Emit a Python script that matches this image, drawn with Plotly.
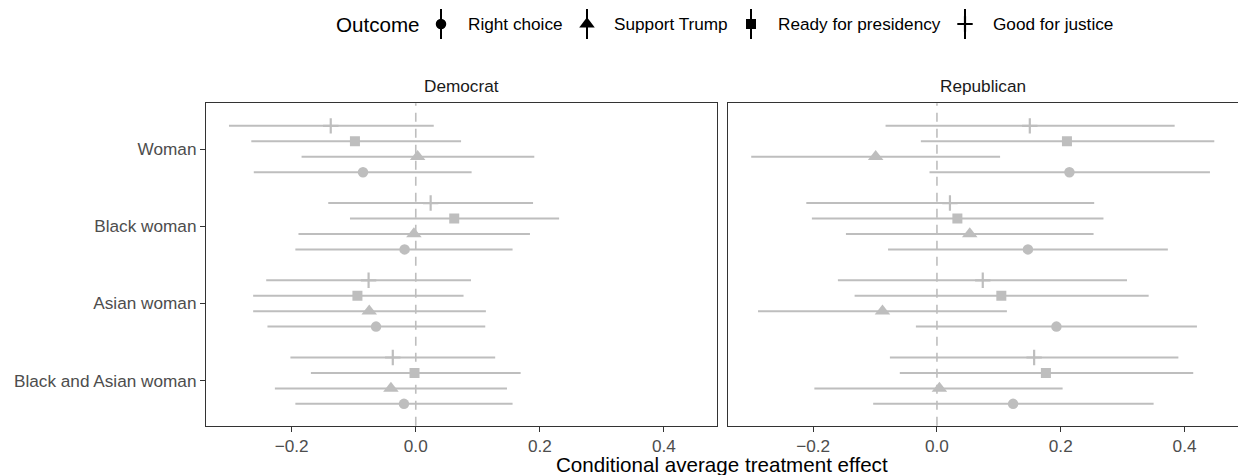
import plotly.graph_objects as go

# ---------------- data ----------------
categories = ["Woman", "Black woman", "Asian woman", "Black and Asian woman"]
outcomes = ["Right choice", "Support Trump", "Ready for presidency", "Good for justice"]
parties = ["Democrat", "Republican"]

# rows follow `outcomes`, columns follow `categories`
dem_est = [
    [-0.085, -0.018, -0.064, -0.019],
    [0.003, -0.003, -0.075, -0.040],
    [-0.098, 0.062, -0.094, -0.002],
    [-0.137, 0.024, -0.076, -0.037],
]
dem_lo = [
    [-0.261, -0.194, -0.239, -0.194],
    [-0.184, -0.189, -0.262, -0.227],
    [-0.265, -0.106, -0.262, -0.169],
    [-0.301, -0.141, -0.241, -0.202],
]
dem_hi = [
    [0.090, 0.156, 0.112, 0.156],
    [0.191, 0.184, 0.113, 0.147],
    [0.073, 0.231, 0.077, 0.169],
    [0.029, 0.189, 0.089, 0.128],
]
rep_est = [
    [0.214, 0.147, 0.193, 0.123],
    [-0.099, 0.053, -0.088, 0.004],
    [0.210, 0.033, 0.104, 0.176],
    [0.150, 0.021, 0.074, 0.157],
]
rep_lo = [
    [-0.012, -0.079, -0.034, -0.103],
    [-0.300, -0.147, -0.289, -0.198],
    [-0.026, -0.202, -0.133, -0.060],
    [-0.083, -0.211, -0.160, -0.076],
]
rep_hi = [
    [0.441, 0.373, 0.420, 0.350],
    [0.102, 0.253, 0.113, 0.203],
    [0.448, 0.269, 0.342, 0.414],
    [0.384, 0.254, 0.307, 0.390],
]
x_ticks = [-0.2, 0.0, 0.2, 0.4]

# ---------------- style ----------------
GREY = "#BEBEBE"
FONT = "Liberation Sans, Arial, sans-serif"
symbols = ["circle", "triangle-up", "square", "cross-thin-open"]
sizes = [10.5, 13.5, 10, 11]
line_w = [0, 0, 0, 2.2]
dodge = 0.8
X_RANGE = [-0.338, 0.4855]
Y_RANGE = [3.583, -0.592]
Y_DOM = [0.1038, 0.7825]
X_DOMS = [[0.1664, 0.5792], [0.5878, 0.9996]]
TICK_SIZE = 17.2

fig = go.Figure()
n = len(outcomes)
panel_data = [(dem_est, dem_lo, dem_hi), (rep_est, rep_lo, rep_hi)]
for pi, (est_t, lo_t, hi_t) in enumerate(panel_data):
    xa = "x" if pi == 0 else "x2"
    ya = "y" if pi == 0 else "y2"
    for oi, outcome in enumerate(outcomes):
        off = ((n - 1) / 2 - oi) * dodge / n
        est = est_t[oi]
        lo = lo_t[oi]
        hi = hi_t[oi]
        fig.add_trace(go.Scatter(
            x=est,
            y=[ci + off for ci in range(len(categories))],
            mode="markers",
            name=outcome,
            showlegend=False,
            xaxis=xa, yaxis=ya,
            marker=dict(symbol=symbols[oi], size=sizes[oi], color=GREY,
                        line=dict(color=GREY, width=line_w[oi])),
            error_x=dict(type="data", symmetric=False,
                         array=[h - e for h, e in zip(hi, est)],
                         arrayminus=[e - l for e, l in zip(est, lo)],
                         width=0, thickness=2, color=GREY),
            hovertemplate=outcome + ": %{x:.3f}<extra></extra>",
        ))

# ---------------- manual legend (ggplot-style pointrange keys) ----------------
legend_key_x = [441, 587, 751, 965]
legend_text_x = [466, 612, 776, 991]
LEG_Y = 24
for oi, outcome in enumerate(outcomes):
    fig.add_trace(go.Scatter(
        x=[legend_key_x[oi]], y=[LEG_Y], mode="markers",
        xaxis="x3", yaxis="y3", showlegend=False, hoverinfo="skip",
        marker=dict(symbol=symbols[oi], size=sizes[oi], color="black",
                    line=dict(color="black", width=line_w[oi])),
        error_y=dict(type="data", array=[15], symmetric=True, width=0,
                     thickness=2, color="black"),
    ))
    fig.add_annotation(x=legend_text_x[oi], y=LEG_Y, xref="x3", yref="y3",
                       text=outcome, showarrow=False, xanchor="left",
                       yanchor="middle",
                       font=dict(family=FONT, size=TICK_SIZE, color="black"))
fig.add_annotation(x=334, y=LEG_Y, xref="x3", yref="y3", text="Outcome",
                   showarrow=False, xanchor="left", yanchor="middle",
                   font=dict(family=FONT, size=20.6, color="black"))

# ---------------- axes ----------------
common_x = dict(range=X_RANGE, tickvals=x_ticks, tickformat=".1f",
                ticks="outside", ticklen=5, tickwidth=1.2, tickcolor="#333333",
                showline=True, mirror=True, linecolor="#333333", linewidth=1.2,
                showgrid=False, zeroline=False,
                tickfont=dict(family=FONT, size=TICK_SIZE, color="#4D4D4D"))
common_y = dict(range=Y_RANGE, showline=True, mirror=True, linecolor="#333333",
                linewidth=1.2, showgrid=False, zeroline=False, domain=Y_DOM)

fig.update_layout(
    width=1238, height=475,
    margin=dict(l=0, r=0, t=0, b=0),
    paper_bgcolor="white", plot_bgcolor="white",
    font=dict(family=FONT),
    xaxis=dict(domain=X_DOMS[0], anchor="y", **common_x),
    xaxis2=dict(domain=X_DOMS[1], anchor="y2", **common_x),
    yaxis=dict(anchor="x", tickvals=list(range(len(categories))),
               ticktext=categories, ticks="outside", ticklen=5, tickwidth=1.2,
               tickcolor="#333333",
               tickfont=dict(family=FONT, size=TICK_SIZE, color="#4D4D4D"),
               **common_y),
    yaxis2=dict(anchor="x2", showticklabels=False, ticks="", **common_y),
    xaxis3=dict(domain=[0, 1], range=[0, 1238], visible=False, anchor="y3"),
    yaxis3=dict(domain=[0.9, 1.0], range=[47.5, 0], visible=False, anchor="x3"),
    showlegend=False,
)

# dashed zero lines
for xr, yr in [("x", "y domain"), ("x2", "y2 domain")]:
    fig.add_shape(type="line", xref=xr, yref=yr, x0=0, x1=0, y0=0, y1=1,
                  line=dict(color=GREY, width=1.6, dash="9px,7px"), layer="below")

# facet strip labels
for pi, party in enumerate(parties):
    fig.add_annotation(x=(X_DOMS[pi][0] + X_DOMS[pi][1]) / 2, y=0.8185,
                       xref="paper", yref="paper", text=party, showarrow=False,
                       xanchor="center", yanchor="middle",
                       font=dict(family=FONT, size=TICK_SIZE, color="#1A1A1A"))

# x axis title
fig.add_annotation(x=(X_DOMS[0][0] + X_DOMS[1][1]) / 2, y=0.0,
                   xref="paper", yref="paper",
                   text="Conditional average treatment effect", showarrow=False,
                   xanchor="center", yanchor="bottom", yshift=-3,
                   font=dict(family=FONT, size=20.6, color="black"))

fig.write_html("out.html")
